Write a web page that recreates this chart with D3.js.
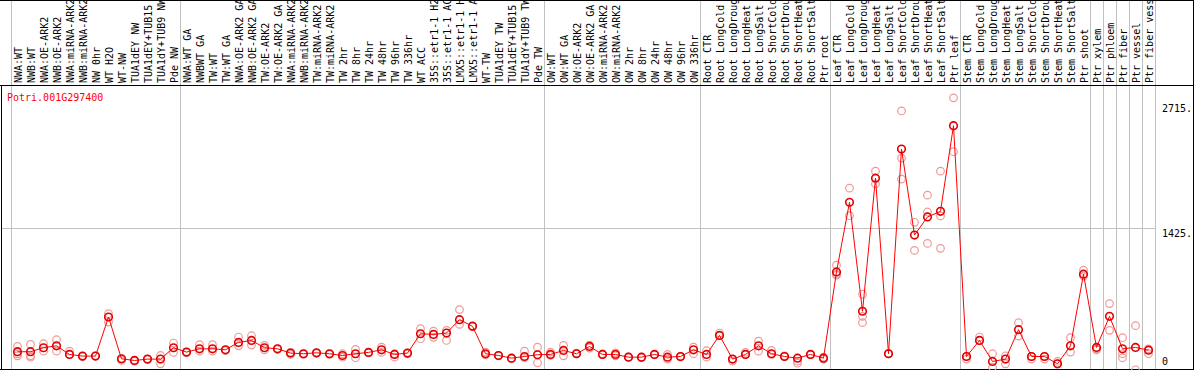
<!DOCTYPE html>
<html>
<head>
<meta charset="utf-8">
<script src="https://cdn.jsdelivr.net/npm/d3@7"></script>
<style>
  html, body { margin: 0; padding: 0; background: #fff; }
  svg { display: block; }
  text { font-family: "DejaVu Sans Mono", monospace; font-size: 10px; }
</style>
</head>
<body>
<svg id="chart"></svg>
<script>
// sample names, in column order
const samples = [
  "NWA:WT", "NWB:WT", "NWA:OE-ARK2", "NWB:OE-ARK2", "NWA:miRNA-ARK2", "NWB:miRNA-ARK2",
  "NW 0hr", "WT H2O", "WT-NW", "TUA1dEY NW", "TUA1dEY+TUB15 NW", "TUA1dY+TUB9 NW", "Pde NW",
  "NWA:WT GA", "NWBWT GA", "TW:WT", "TW:WT GA", "NWA:OE-ARK2 GA", "NWB:OE-ARK2 GA",
  "TW:OE-ARK2", "TW:OE-ARK2 GA", "NWA:miRNA-ARK2", "NWB:miRNA-ARK2", "TW:miRNA-ARK2",
  "TW:miRNA-ARK2", "TW 2hr", "TW 8hr", "TW 24hr", "TW 48hr", "TW 96hr", "TW 336hr", "WT ACC",
  "35S::etr1-1 H2O", "35S::etr1-1 ACC", "LMX5::etr1-1 H2O", "LMX5::etr1-1 ACC", "WT-TW",
  "TUA1dEY TW", "TUA1dEY+TUB15 TW", "TUA1dY+TUB9 TW", "Pde TW",
  "OW:WT", "OW:WT GA", "OW:OE-ARK2", "OW:OE-ARK2 GA", "OW:miRNA-ARK2", "OW:miRNA-ARK2",
  "OW 2hr", "OW 8hr", "OW 24hr", "OW 48hr", "OW 96hr", "OW 336hr",
  "Root CTR", "Root LongCold", "Root LongDrought", "Root LongHeat", "Root LongSalt",
  "Root ShortCold", "Root ShortDrought", "Root ShortHeat", "Root ShortSalt", "Ptr root",
  "Leaf CTR", "Leaf LongCold", "Leaf LongDrought", "Leaf LongHeat", "Leaf LongSalt",
  "Leaf ShortCold", "Leaf ShortDrought", "Leaf ShortHeat", "Leaf ShortSalt", "Ptr leaf",
  "Stem CTR", "Stem LongCold", "Stem LongDrought", "Stem LongHeat", "Stem LongSalt",
  "Stem ShortCold", "Stem ShortDrought", "Stem ShortHeat", "Stem ShortSalt", "Ptr shoot",
  "Ptr xylem", "Ptr phloem", "Ptr fiber", "Ptr vessel", "Ptr fiber vessel"
];

// how many samples sit in each block between the gray separators
const groupSizes = [13, 28, 12, 10, 10, 10, 1, 1, 1, 1, 1];

// mean expression per sample
const means = [
  152, 152, 193, 213, 124, 107, 107, 509, 79, 62, 76, 76, 193,
  148, 182, 182, 172, 248, 268, 193, 182, 138, 131, 141, 131, 113, 131, 145, 172, 124, 138,
  337, 330, 344, 482, 413, 131, 113, 86, 103, 121,
  124, 165, 131, 206, 124, 124, 96, 96, 124, 96, 103, 172,
  124, 320, 76, 124, 213, 131, 103, 86, 124, 86,
  973, 1689, 568, 1937, 131, 2236, 1352, 1538, 1596, 2477,
  103, 268, 52, 76, 379, 103, 103, 28, 213, 949,
  196, 516, 182, 196, 168
];

// replicate values per sample
const replicates = [
  [206, 110, 130], [227, 110, 96], [234, 158], [275, 158], [158, 124], [107, 100], [107, 110],
  [543, 457], [79, 62], [62, 55], [76, 70], [113, 28], [241, 145],
  [148, 140], [224, 158], [224, 158], [172, 165], [303, 213], [316, 220], [217, 172], [182, 175],
  [124, 145], [131, 125], [141, 135], [131, 125], [131, 96], [175, 90], [145, 140], [199, 145],
  [131, 96], [138, 130], [389, 286], [364, 300], [372, 268], [585, 433], [413, 420],
  [148, 120], [113, 110], [86, 80], [158, 90], [199, 38],
  [148, 113], [217, 110], [138, 131], [220, 190], [124, 130], [141, 110], [96, 100], [96, 90],
  [124, 120], [124, 76], [103, 96], [199, 131],
  [162, 96], [344, 320], [76, 55], [145, 124], [261, 158], [165, 124], [103, 110], [55, 34],
  [124, 120], [96, 76],
  [1042, 939, 950], [1834, 1551], [743, 516, 451], [2009, 1878], [131, 135],
  [2628, 2143, 1927], [1483, 1194], [1762, 1589, 1266], [2009, 1548, 1215], [2763, 2209],
  [103, 76], [303, 268], [131, -7], [110, 28], [451, 313], [103, 76], [103, 76], [52, 28],
  [296, 148], [991, 930],
  [182, 172], [647, 372], [296, 131, 90], [420, -34], [182, 131]
];

const geneName = "Potri.001G297400";
const tickValues = [0, 1425, 2715];
const tickLabels = ["0", "1425.", "2715."];

const W = 1194, H = 370;
const headerBottom = 85.5;
const plotBottom = 369.5;

const svg = d3.select("#chart").attr("width", W).attr("height", H);

const idx = samples.map((d, i) => i);
const x = d3.scaleBand().domain(idx).range([11, 1155]).padding(0);
const y = d3.scaleLinear().domain([0, 2715]).range([366.5, 102.5]);

// gray separators between sample blocks
let starts = [];
let s = 0;
groupSizes.forEach(n => { starts.push(s); s += n; });
const sepX = starts.map(i => x(i)).concat([x(samples.length - 1) + x.bandwidth()]);
svg.append("g")
  .selectAll("line")
  .data(sepX)
  .join("line")
  .attr("x1", d => Math.round(d) + 0.5)
  .attr("x2", d => Math.round(d) + 0.5)
  .attr("y1", 0)
  .attr("y2", plotBottom)
  .attr("stroke", "#c0c0c0")
  .attr("stroke-width", 1);

// horizontal grid at the middle tick
svg.append("line")
  .attr("x1", 1).attr("x2", 1155)
  .attr("y1", Math.round(y(1425)) + 0.5)
  .attr("y2", Math.round(y(1425)) + 0.5)
  .attr("stroke", "#c0c0c0");

// frame
const frame = svg.append("g").attr("stroke", "#000").attr("stroke-width", 1);
frame.append("line").attr("x1", 0).attr("x2", W).attr("y1", 0.5).attr("y2", 0.5);
frame.append("line").attr("x1", 0).attr("x2", W).attr("y1", headerBottom).attr("y2", headerBottom);
frame.append("line").attr("x1", 0).attr("x2", W).attr("y1", plotBottom).attr("y2", plotBottom);
frame.append("line").attr("x1", 1.5).attr("x2", 1.5).attr("y1", headerBottom).attr("y2", plotBottom);
frame.append("line").attr("x1", W - 0.5).attr("x2", W - 0.5).attr("y1", 0).attr("y2", H);

// sample labels, rotated
svg.append("g")
  .selectAll("text")
  .data(samples)
  .join("text")
  .attr("transform", (d, i) => `translate(${x(i) + x.bandwidth() / 2 + 4},83) rotate(-90)`)
  .attr("fill", "#000")
  .text(d => d);

// right axis labels
const axis = svg.append("g")
  .attr("transform", "translate(1162,0)")
  .call(d3.axisRight(y).tickValues(tickValues).tickSize(0).tickFormat((d, i) => tickLabels[i]));
axis.select(".domain").remove();
axis.selectAll("text")
  .attr("x", 0)
  .attr("fill", "#000")
  .style("font-family", "'DejaVu Sans Mono', monospace")
  .style("font-size", "10px")
  .attr("dy", (d) => d === 0 ? "-0.2em" : "0.9em");

// gene name
svg.append("text")
  .attr("x", 7)
  .attr("y", 101)
  .attr("fill", "#ff0000")
  .text(geneName);

// replicate circles
const repPts = [];
replicates.forEach((arr, i) => arr.forEach(v => repPts.push({ i: i, v: v })));
svg.append("g")
  .selectAll("circle")
  .data(repPts)
  .join("circle")
  .attr("cx", d => x(d.i) + x.bandwidth() / 2)
  .attr("cy", d => y(d.v))
  .attr("r", 3.8)
  .attr("fill", "none")
  .attr("stroke", "#f09898")
  .attr("stroke-width", 1.2);

// mean line
const line = d3.line()
  .x((d, i) => x(i) + x.bandwidth() / 2)
  .y(d => y(d));
svg.append("path")
  .datum(means)
  .attr("d", line)
  .attr("fill", "none")
  .attr("stroke", "#ff0000")
  .attr("stroke-width", 1);

// mean circles
svg.append("g")
  .selectAll("circle")
  .data(means)
  .join("circle")
  .attr("cx", (d, i) => x(i) + x.bandwidth() / 2)
  .attr("cy", d => y(d))
  .attr("r", 3.8)
  .attr("fill", "none")
  .attr("stroke", "#e00000")
  .attr("stroke-width", 1.6);
</script>
</body>
</html>
